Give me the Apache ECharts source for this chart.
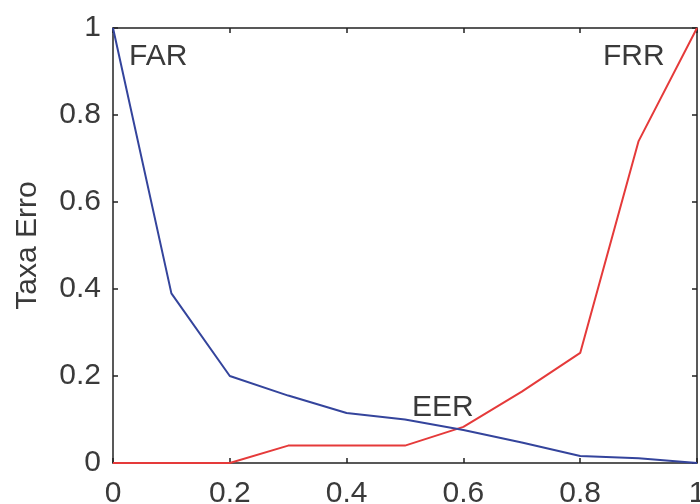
<!DOCTYPE html>
<html><head><meta charset="utf-8">
<script src="https://cdn.jsdelivr.net/npm/echarts@6/dist/echarts.min.js"></script>
<style>html,body{margin:0;padding:0;background:#fff}#c{width:700px;height:504px}</style>
</head><body><div id="c"></div>
<script>
const thresholds = [0, 0.1, 0.2, 0.3, 0.4, 0.5, 0.6, 0.7, 0.8, 0.9, 1.0];
const farValues = [1.0, 0.39, 0.2, 0.155, 0.115, 0.1, 0.076, 0.047, 0.016, 0.011, 0.0];
const frrValues = [0.0, 0.0, 0.0, 0.04, 0.04, 0.04, 0.083, 0.164, 0.253, 0.74, 1.0];
const yAxisName = 'Taxa Erro';
const curveLabels = ['FAR', 'FRR', 'EER'];

const font = 'Liberation Sans, Arial, sans-serif';
const txt = '#3a3a3a';
const chart = echarts.init(document.getElementById('c'), null, {renderer: 'canvas'});
const axisLine = {show: true, onZero: false, lineStyle: {color: '#222', width: 1.5}};
const tick = {show: true, inside: true, length: 5, lineStyle: {color: '#222', width: 1.5}};
chart.setOption({
  animation: false,
  backgroundColor: '#fff',
  grid: {left: 113, right: 3, top: 28, bottom: 41, containLabel: false, outerBoundsMode: 'none'},
  xAxis: [
    {type: 'value', min: 0, max: 1, interval: 0.2, position: 'bottom',
     axisLine: axisLine, axisTick: tick, splitLine: {show: false},
     axisLabel: {fontFamily: font, fontSize: 30, color: txt, margin: 16, showMaxLabel: true, hideOverlap: false}},
    {type: 'value', min: 0, max: 1, interval: 0.2, position: 'top',
     axisLine: axisLine, axisTick: tick, splitLine: {show: false}, axisLabel: {show: false}}
  ],
  yAxis: [
    {type: 'value', min: 0, max: 1, interval: 0.2, position: 'left',
     name: yAxisName, nameLocation: 'middle', nameGap: 70, nameRotate: 90,
     nameTextStyle: {fontFamily: font, fontSize: 30, color: txt},
     axisLine: axisLine, axisTick: tick, splitLine: {show: false},
     axisLabel: {fontFamily: font, fontSize: 30, color: txt, margin: 12}},
    {type: 'value', min: 0, max: 1, interval: 0.2, position: 'right',
     axisLine: axisLine, axisTick: tick, splitLine: {show: false}, axisLabel: {show: false}}
  ],
  series: [
    {name: 'FAR', type: 'line', data: thresholds.map((t, i) => [t, farValues[i]]),
     showSymbol: false, lineStyle: {color: '#34449c', width: 2}, itemStyle: {color: '#34449c'}, z: 3},
    {name: 'FRR', type: 'line', data: thresholds.map((t, i) => [t, frrValues[i]]),
     showSymbol: false, lineStyle: {color: '#e53a3a', width: 2}, itemStyle: {color: '#e53a3a'}, z: 2}
  ],
  graphic: [
    {type: 'text', left: 129, top: 42, style: {text: curveLabels[0], fontFamily: font, fontSize: 30, fill: txt}},
    {type: 'text', left: 603, top: 42, style: {text: curveLabels[1], fontFamily: font, fontSize: 30, fill: txt}},
    {type: 'text', left: 412, top: 393, style: {text: curveLabels[2], fontFamily: font, fontSize: 30, fill: txt}}
  ]
});
</script></body></html>
